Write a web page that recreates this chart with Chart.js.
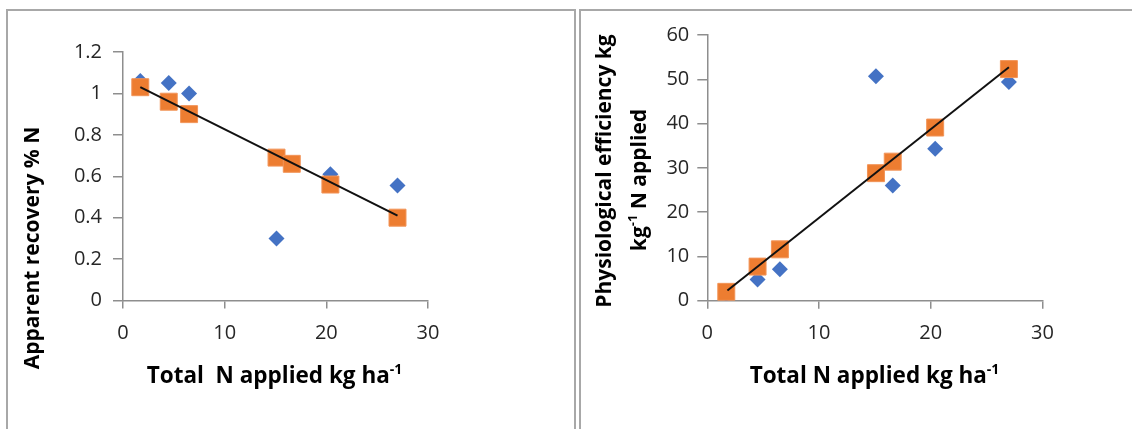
<!DOCTYPE html>
<html>
<head>
<meta charset="utf-8">
<script src="https://cdn.jsdelivr.net/npm/chart.js@4.4.0/dist/chart.umd.min.js"></script>
<style>
  body { margin: 0; background: #fff; width: 1132px; height: 429px; overflow: hidden; position: relative; }
  .panel { position: absolute; top: 9px; height: 440px; border: 2px solid #a8a8a8; box-sizing: border-box; }
  #p1 { left: 6px; width: 570px; }
  #p2 { left: 579px; width: 600px; }
  .wrap { position: absolute; top: 12px; height: 417px; }
  #w1 { left: 9px; width: 565px; }
  #w2 { left: 582px; width: 550px; }
</style>
</head>
<body>
<div class="panel" id="p1"></div>
<div class="panel" id="p2"></div>
<div class="wrap" id="w1"><canvas id="recovery"></canvas></div>
<div class="wrap" id="w2"><canvas id="efficiency"></canvas></div>
<script>
// total N applied (kg ha-1), shared by both panels
const nApplied = [1.7, 4.5, 6.5, 15.1, 16.6, 20.4, 27.0];
const xTicks = [0, 10, 20, 30];

// apparent recovery % N
const recoveryObserved = [1.06, 1.05, 1.00, 0.30, 0.66, 0.61, 0.555];
const recoveryFitted = [1.03, 0.96, 0.90, 0.69, 0.66, 0.56, 0.40];
const recoveryTrendX = [1.7, 27.0];
const recoveryTrendY = [1.03, 0.41];
const recoveryTicks = [0, 0.2, 0.4, 0.6, 0.8, 1, 1.2];

// physiological efficiency kg kg-1 N applied
const efficiencyObserved = [1.5, 4.8, 7.1, 50.7, 26.0, 34.3, 49.4];
const efficiencyFitted = [2.0, 7.7, 11.6, 28.8, 31.4, 39.1, 52.3];
const efficiencyTrendX = [1.8, 27.0];
const efficiencyTrendY = [2.3, 52.7];
const efficiencyTicks = [0, 10, 20, 30, 40, 50, 60];

const FONT = '"Open Sans"';
const axisGray = '#8e8e8e';
Chart.defaults.font.family = FONT;
Chart.defaults.color = '#262626';

function pts(xs, ys) {
  return xs.map((x, i) => ({ x: x, y: ys[i] }));
}

// bold text with superscript pieces, centred on (0,0)
function drawRich(ctx, parts, size) {
  const fonts = parts.map(p => 'bold ' + (p.sup ? Math.round(size * 0.6) : size) + 'px ' + FONT);
  const widths = parts.map((p, i) => { ctx.font = fonts[i]; return ctx.measureText(p.t).width; });
  let x = -widths.reduce((a, b) => a + b, 0) / 2;
  ctx.textAlign = 'left';
  ctx.textBaseline = 'middle';
  parts.forEach((p, i) => {
    ctx.font = fonts[i];
    ctx.fillText(p.t, x, p.sup ? -size * 0.3 : 0);
    x += widths[i];
  });
}

const axisTitles = {
  id: 'axisTitles',
  afterDraw(chart, args, opts) {
    const ctx = chart.ctx;
    ctx.save();
    ctx.fillStyle = '#000';
    opts.items.forEach(it => {
      ctx.save();
      ctx.translate(it.x, it.y);
      if (it.rotate) ctx.rotate(-Math.PI / 2);
      drawRich(ctx, it.parts, it.size || opts.size);
      ctx.restore();
    });
    ctx.restore();
  }
};

const fmt = v => String(Math.round(v * 10) / 10);

function makeChart(id, cfg) {
  return new Chart(document.getElementById(id), {
    type: 'scatter',
    data: {
      datasets: [
        {
          type: 'line',
          data: pts(cfg.trendX, cfg.trendY),
          borderColor: '#111',
          borderWidth: 2,
          pointRadius: 0,
          fill: false
        },
        {
          data: pts(nApplied, cfg.fitted),
          pointStyle: 'rect',
          pointRadius: 12,
          backgroundColor: '#ED7D31',
          borderColor: '#F29458',
          borderWidth: 1
        },
        {
          data: pts(nApplied, cfg.observed),
          pointStyle: 'rectRot',
          pointRadius: 8,
          backgroundColor: '#4472C4',
          borderColor: '#4472C4',
          borderWidth: 0
        }
      ]
    },
    options: {
      responsive: true,
      maintainAspectRatio: false,
      animation: false,
      events: [],
      layout: { padding: cfg.padding },
      plugins: {
        legend: { display: false },
        tooltip: { enabled: false },
        axisTitles: { size: 21, items: cfg.titles }
      },
      scales: {
        x: {
          type: 'linear',
          min: 0,
          max: 30,
          afterBuildTicks: s => { s.ticks = xTicks.map(v => ({ value: v })); },
          afterFit: s => { s.height = cfg.xHeight; },
          grid: { drawOnChartArea: false, drawTicks: true, tickLength: 8, color: axisGray, lineWidth: 1.5 },
          border: { color: axisGray, width: 1.5 },
          ticks: { padding: 13, font: { size: 20 }, callback: fmt }
        },
        y: {
          type: 'linear',
          min: 0,
          max: cfg.yMax,
          afterBuildTicks: s => { s.ticks = cfg.yTicks.map(v => ({ value: v })); },
          afterFit: s => { s.width = cfg.yWidth; },
          grid: { drawOnChartArea: false, drawTicks: true, tickLength: 10, color: axisGray, lineWidth: 1.5 },
          border: { color: axisGray, width: 1.5 },
          ticks: { padding: cfg.yPad, font: { size: 20 }, callback: fmt }
        }
      }
    },
    plugins: [axisTitles]
  });
}

makeChart('recovery', {
  observed: recoveryObserved,
  fitted: recoveryFitted,
  trendX: recoveryTrendX,
  trendY: recoveryTrendY,
  yMax: 1.2,
  yTicks: recoveryTicks,
  padding: { left: 0, top: 40, right: 146, bottom: 0 },
  yWidth: 114,
  xHeight: 128.5,
  yPad: 11,
  titles: [
    { x: 265.5, y: 364.7, size: 22.5, parts: [{ t: 'Total  N applied kg ha' }, { t: '-1', sup: true }] },
    { x: 24, y: 236, rotate: true, parts: [{ t: 'Apparent recovery % N' }] }
  ]
});

makeChart('efficiency', {
  observed: efficiencyObserved,
  fitted: efficiencyFitted,
  trendX: efficiencyTrendX,
  trendY: efficiencyTrendY,
  yMax: 60,
  yTicks: efficiencyTicks,
  padding: { left: 0, top: 23, right: 89.6, bottom: 0 },
  yWidth: 125.3,
  xHeight: 128.3,
  yPad: 8,
  titles: [
    { x: 292.5, y: 364.7, size: 22.5, parts: [{ t: 'Total N applied kg ha' }, { t: '-1', sup: true }] },
    { x: 23, y: 159, rotate: true, parts: [{ t: 'Physiological efficiency kg' }] },
    { x: 58, y: 168, rotate: true, parts: [{ t: 'kg' }, { t: '-1', sup: true }, { t: ' N applied' }] }
  ]
});
</script>
</body>
</html>
